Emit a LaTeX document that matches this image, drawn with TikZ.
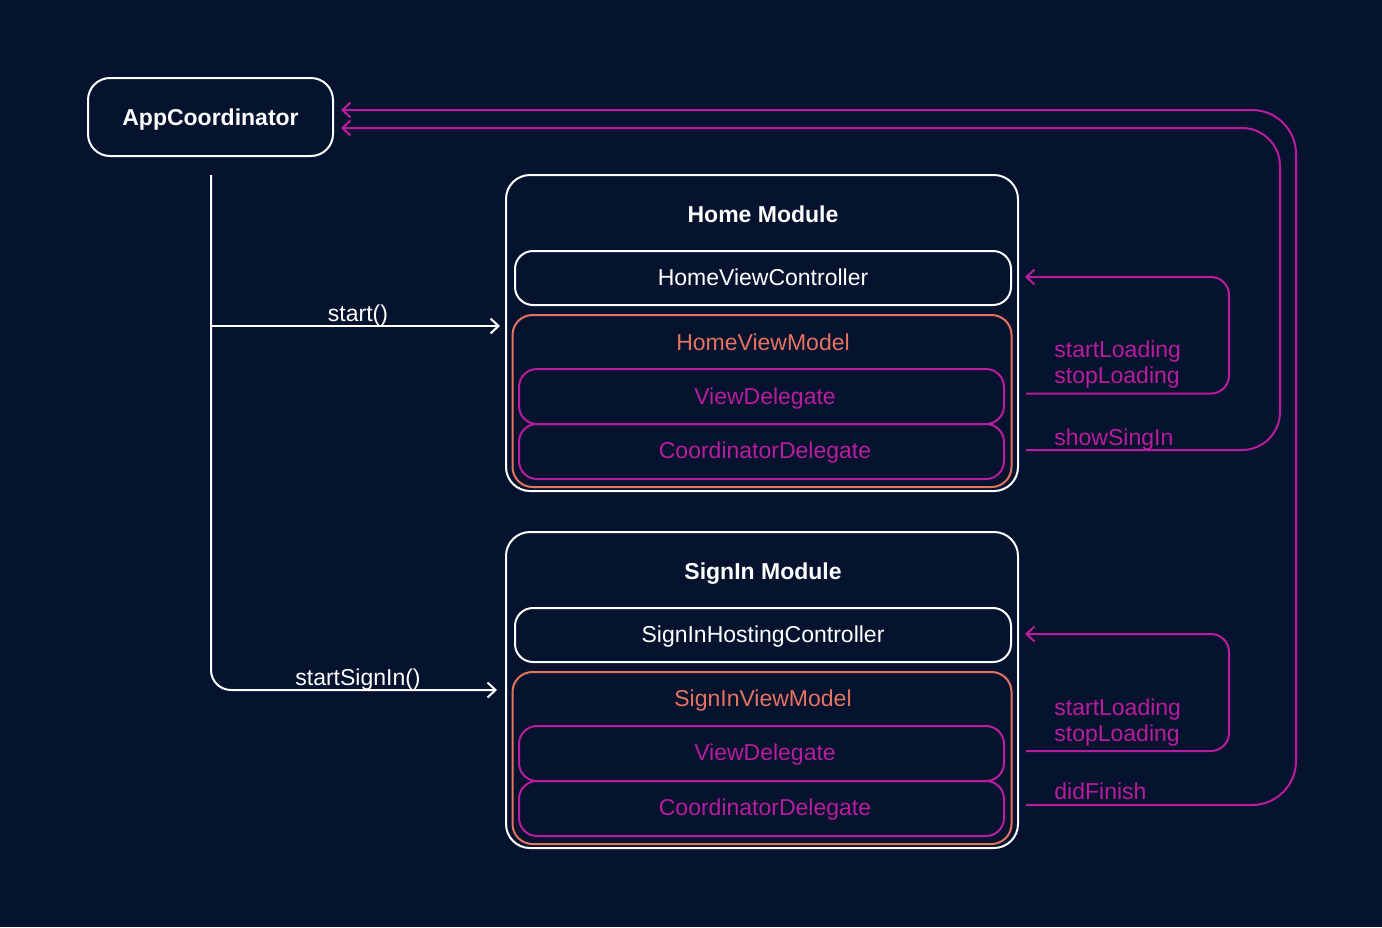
\documentclass[tikz,border=0pt]{standalone}
\usepackage{fontspec}
\setmainfont{Liberation Sans}
\usetikzlibrary{arrows.meta}
\definecolor{bg}{HTML}{06132E}
\definecolor{mag}{HTML}{B81D9E}
\definecolor{ora}{HTML}{E5735F}
\begin{document}
\begin{tikzpicture}[x=0.5pt,y=-0.5pt,
  txt/.style={font=\fontsize{11.5}{13}\selectfont, inner sep=0pt, text height=8.2pt, text depth=0pt},
  bold/.style={txt, font=\fontsize{11.5}{13}\selectfont\bfseries, text=white},
  wbox/.style={draw=white, line width=1pt, rounded corners=9pt, inner sep=0pt},
  obox/.style={draw=ora, line width=1pt, rounded corners=10pt, inner sep=0pt},
  mbox/.style={draw=mag, line width=1pt, rounded corners=9pt, inner sep=0pt},
  wline/.style={draw=white, line width=1pt},
  mline/.style={draw=mag, line width=1pt},
  tip/.style={-{Straight Barb[length=4pt,width=7.5pt,line width=1pt]}},
]
\fill[bg] (0,0) rectangle (1382,927);
\useasboundingbox (0,0) rectangle (1382,927);

% AppCoordinator
\node[wbox, rounded corners=11pt, minimum width=122.5pt, minimum height=39pt] (app) at (210.5,117) {};
\node[bold] (apptxt) at (210.5,117) {AppCoordinator};

% Home Module
\node[wbox, rounded corners=12pt, minimum width=256pt, minimum height=158pt] (home) at (762,333) {};
\node[bold] (hometitle) at (763,214) {Home Module};
\node[wbox, minimum width=248pt, minimum height=27pt] (hvc) at (763,278) {};
\node[txt, text=white] (hvctxt) at (763,277.5) {HomeViewController};
\node[obox, minimum width=249.5pt, minimum height=86pt] (hvm) at (762,401) {};
\node[txt, text=ora] (hvmtxt) at (763,342) {HomeViewModel};
\node[mbox, minimum width=242.5pt, minimum height=27.5pt] (hvd) at (761.5,396.5) {};
\node[txt, text=mag] (hvdtxt) at (765,396) {ViewDelegate};
\node[mbox, minimum width=242.5pt, minimum height=27.5pt] (hcd) at (761.5,451.5) {};
\node[txt, text=mag] (hcdtxt) at (765,450.5) {CoordinatorDelegate};

% SignIn Module
\node[wbox, rounded corners=12pt, minimum width=256pt, minimum height=158pt] (sign) at (762,690) {};
\node[bold] (signtitle) at (763,571) {SignIn Module};
\node[wbox, minimum width=248pt, minimum height=27pt] (shc) at (763,635) {};
\node[txt, text=white] (shctxt) at (763,634.5) {SignInHostingController};
\node[obox, minimum width=249.5pt, minimum height=86pt] (svm) at (762,758) {};
\node[txt, text=ora] (svmtxt) at (763,698.5) {SignInViewModel};
\node[mbox, minimum width=242.5pt, minimum height=27.5pt] (svd) at (761.5,753.5) {};
\node[txt, text=mag] (svdtxt) at (765,752.5) {ViewDelegate};
\node[mbox, minimum width=242.5pt, minimum height=27.5pt] (scd) at (761.5,808.5) {};
\node[txt, text=mag] (scdtxt) at (765,807) {CoordinatorDelegate};

% left connectors
\coordinate (vtop) at (211,175);
\coordinate (vbranch) at (211,326);
\coordinate (startend) at (500,326);
\coordinate (signend) at (497,690);
\draw[wline, tip, rounded corners=10pt] (vtop) |- (signend);
\draw[wline, tip] (vbranch) -- (startend);
\node[txt, text=white] (startlbl) at (358,313) {start()};
\node[txt, text=white] (signlbl) at (358,677) {startSignIn()};

% right connectors: Home
\coordinate (hl1) at (1026,393.5);
\coordinate (hl2) at (1229,277);
\coordinate (hl3) at (1025,277);
\draw[mline, tip, rounded corners=9pt] (hl1) -| (hl2) -- (hl3);
\node[txt, text=mag, anchor=west] (hlbla) at (1054,349) {startLoading};
\node[txt, text=mag, anchor=west] (hlblb) at (1054,375) {stopLoading};

\coordinate (hs1) at (1026,450);
\coordinate (hs2) at (1280,128);
\coordinate (hs3) at (341,128);
\draw[mline, tip, rounded corners=19pt] (hs1) -| (hs2) -- (hs3);
\node[txt, text=mag, anchor=west] (hslbl) at (1054,437.5) {showSingIn};

% right connectors: SignIn
\coordinate (sl1) at (1026,751);
\coordinate (sl2) at (1229,634);
\coordinate (sl3) at (1025,634);
\draw[mline, tip, rounded corners=9pt] (sl1) -| (sl2) -- (sl3);
\node[txt, text=mag, anchor=west] (slbla) at (1054,707) {startLoading};
\node[txt, text=mag, anchor=west] (slblb) at (1054,733) {stopLoading};

\coordinate (sf1) at (1026,805);
\coordinate (sf2) at (1296,110);
\coordinate (sf3) at (341,110);
\draw[mline, tip, rounded corners=22pt] (sf1) -| (sf2) -- (sf3);
\node[txt, text=mag, anchor=west] (sflbl) at (1054,791) {didFinish};
\end{tikzpicture}
\end{document}
